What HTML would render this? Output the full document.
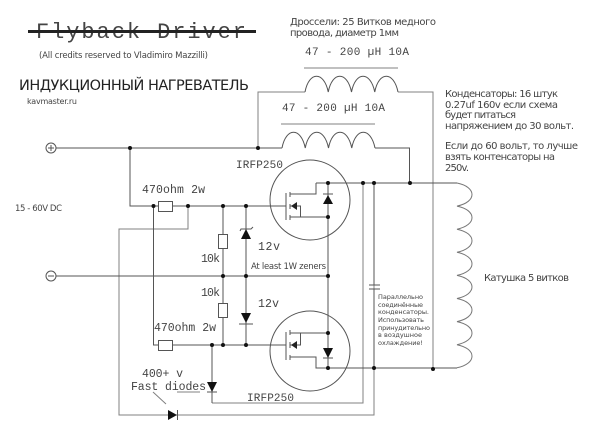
<!DOCTYPE html>
<html><head><meta charset="utf-8"><style>
html,body{margin:0;padding:0;background:#fff}
svg{display:block;filter:blur(0.25px)}
text{font-family:"DejaVu Sans","Noto Sans CJK SC",sans-serif;fill:#444;font-size:10px}
.m{font-family:"Liberation Mono",monospace;fill:#444;font-size:11px}
.w{fill:none;stroke:#555;stroke-width:1}
.l{fill:none;stroke:#808080;stroke-width:1}
</style></head><body>
<svg width="600" height="441" viewBox="0 0 600 441" xmlns="http://www.w3.org/2000/svg">
<rect width="600" height="441" fill="#fff"/>
<!-- titles -->
<text class="m" x="36" y="38" style="font-size:22px" textLength="210">Flyback Driver</text>
<rect x="28" y="30" width="228" height="3" fill="#222"/>
<text x="39" y="58" style="font-size:8.5px" textLength="169">(All credits reserved to Vladimiro Mazzilli)</text>
<text x="19" y="90" style="font-size:14.5px;fill:#222" textLength="230">ИНДУКЦИОННЫЙ НАГРЕВАТЕЛЬ</text>
<text x="27" y="104" style="font-size:8px" textLength="50">kavmaster.ru</text>
<text x="290" y="25" textLength="146">Дроссели: 25 Витков медного</text>
<text x="290" y="36" textLength="109">провода, диаметр 1мм</text>
<text class="m" x="305" y="55" textLength="104">47 - 200 µH 10A</text>
<text class="m" x="282" y="111" textLength="103">47 - 200 µH 10A</text>
<text x="445" y="97" textLength="113">Конденсаторы: 16 штук</text>
<text x="445" y="108" textLength="113">0.27uf 160v если схема</text>
<text x="445" y="118" textLength="71">будет питаться</text>
<text x="445" y="129" textLength="129">напряжением до 30 вольт.</text>
<text x="445" y="149" textLength="133">Если до 60 вольт, то лучше</text>
<text x="445" y="160" textLength="110">взять контенсаторы на</text>
<text x="445" y="171" textLength="24">250v.</text>
<text x="15" y="211" style="font-size:8.5px" textLength="47">15 - 60V DC</text>
<text x="484" y="281" textLength="85">Катушка 5 витков</text>
<text class="m" x="236" y="168" textLength="47">IRFP250</text>
<text class="m" x="247" y="401" textLength="47">IRFP250</text>
<text class="m" x="142" y="193" style="font-size:11.5px" textLength="63">470ohm 2w</text>
<text class="m" x="154" y="331" style="font-size:11.5px" textLength="62">470ohm 2w</text>
<text class="m" x="201" y="262" style="font-size:11.5px" textLength="19">10k</text>
<text class="m" x="201" y="296" style="font-size:11.5px" textLength="19">10k</text>
<text class="m" x="258" y="250" style="font-size:11.5px" textLength="22">12v</text>
<text class="m" x="258" y="307" style="font-size:11.5px" textLength="21">12v</text>
<text x="251" y="269" style="font-size:8.5px" textLength="75">At least 1W zeners</text>
<text class="m" x="142" y="377" style="font-size:11.5px" textLength="41">400+ v</text>
<text class="m" x="131" y="390" style="font-size:11.5px" textLength="75">Fast diodes</text>
<text x="378" y="299" style="font-size:6.5px" textLength="45">Параллельно</text>
<text x="378" y="307" style="font-size:6.5px" textLength="45">соединённые</text>
<text x="378" y="314" style="font-size:6.5px" textLength="51">конденсаторы.</text>
<text x="378" y="322" style="font-size:6.5px" textLength="46">Использовать</text>
<text x="378" y="330" style="font-size:6.5px" textLength="52">принудительно</text>
<text x="378" y="337" style="font-size:6.5px" textLength="44">в воздушное</text>
<text x="378" y="345" style="font-size:6.5px" textLength="45">охлаждение!</text>
<!-- light long wires -->
<path class="l" d="M258 148V92H305M398 92H433V368.5"/>
<path class="l" d="M119 276V415H374V183M188 206V229H119V276M212 403H363V183"/>
<path class="l" d="M304 68H398M281 124H375"/>
<path class="l" d="M177 392H200M153 392L166 404"/>
<!-- inductors -->
<path class="w" d="M305 92c4 -21 19 -21 23.25 0c4 -21 19 -21 23.25 0c4 -21 19 -21 23.25 0c4 -21 19 -21 23.25 0"/>
<path class="w" d="M282 148c4 -21 19 -21 23.25 0c4 -21 19 -21 23.25 0c4 -21 19 -21 23.25 0c4 -21 19 -21 23.25 0"/>
<path class="w" d="M258 148H282M375 148H409.500V183"/>
<path class="w" d="M457 183c20 4 20 19 0 23.1c20 4 20 19 0 23.1c20 4 20 19 0 23.1c20 4 20 19 0 23.1c20 4 20 19 0 23.1c20 4 20 19 0 23.1c20 4 20 19 0 23.1c20 4 20 19 0 23.1" style="stroke:#777"/>
<!-- rails -->
<path class="w" d="M56 148H258M130 148V206H286M56 276H328M153.500 206V345H286M223 206V345M246 206V345M328 183V368"/>
<path class="w" d="M316 183H457M316 368H457M374 183V285M374 289V368"/>
<path class="w" d="M212 345V403"/>
<path class="w" d="M369 285H380M369 289H380"/>
<!-- terminals -->
<circle cx="51" cy="148" r="5" fill="#fff" stroke="#555"/>
<path class="w" d="M48 148H54M51 145V151"/>
<circle cx="51" cy="276" r="5" fill="#fff" stroke="#555"/>
<path class="w" d="M48 276H54"/>
<!-- resistors -->
<g fill="#fff" stroke="#555">
<rect x="158.500" y="201.500" width="14" height="10"/>
<rect x="158.500" y="340.500" width="14" height="10"/>
<rect x="218.500" y="234.500" width="9" height="14"/>
<rect x="218.500" y="303.500" width="9" height="14"/>
</g>
<!-- MOSFETs -->
<circle class="w" cx="310" cy="200" r="40"/>
<circle class="w" cx="310" cy="351" r="40"/>
<path class="w" d="M286 193V220M290 192V197M290 204V209M290 215V220"/>
<path class="w" d="M290 194H316V183M290 217H328M290 206H300.500V217"/>
<path d="M291 206L297 202V210Z" fill="#222"/>
<path class="w" d="M286 332V360M290 330V335M290 342V348M290 355V360"/>
<path class="w" d="M290 333H328M290 357H316V368H328M290 345H300.500V333"/>
<path d="M291 345L297 341V349Z" fill="#222"/>
<!-- diodes -->
<g fill="#111">
<path d="M328 195L323 204H333Z"/>
<path d="M328 358L323 348H333Z"/>
<path d="M246 229L241 239H251Z"/>
<path d="M246 323L241 313H251Z"/>
<path d="M212 392L207 382H217Z"/>
<path d="M177 415L168 410V420Z"/>
</g>
<path class="w" d="M323 194H333M323 358H333M207 392H217M177.500 410V420"/>
<path class="w" d="M240 231L241 229H251L253 227M239 324H253"/>
<!-- dots -->
<g fill="#111">
<circle cx="130" cy="148" r="2"/><circle cx="258" cy="148" r="2"/>
<circle cx="153.500" cy="206" r="2"/><circle cx="188" cy="206" r="2"/><circle cx="223" cy="206" r="2"/><circle cx="246" cy="206" r="2"/>
<circle cx="223" cy="276" r="2"/><circle cx="246" cy="276" r="2"/><circle cx="328" cy="276" r="2"/>
<circle cx="212" cy="345" r="2"/><circle cx="223" cy="345" r="2"/><circle cx="246" cy="345" r="2"/>
<circle cx="328" cy="183" r="2"/><circle cx="328" cy="217" r="2"/><circle cx="328" cy="333" r="2"/><circle cx="328" cy="368" r="2"/>
<circle cx="363" cy="183" r="2"/><circle cx="374" cy="183" r="2"/><circle cx="410" cy="183" r="2"/>
<circle cx="374" cy="368" r="2"/><circle cx="433" cy="369" r="2"/>
</g>
</svg>
</body></html>
